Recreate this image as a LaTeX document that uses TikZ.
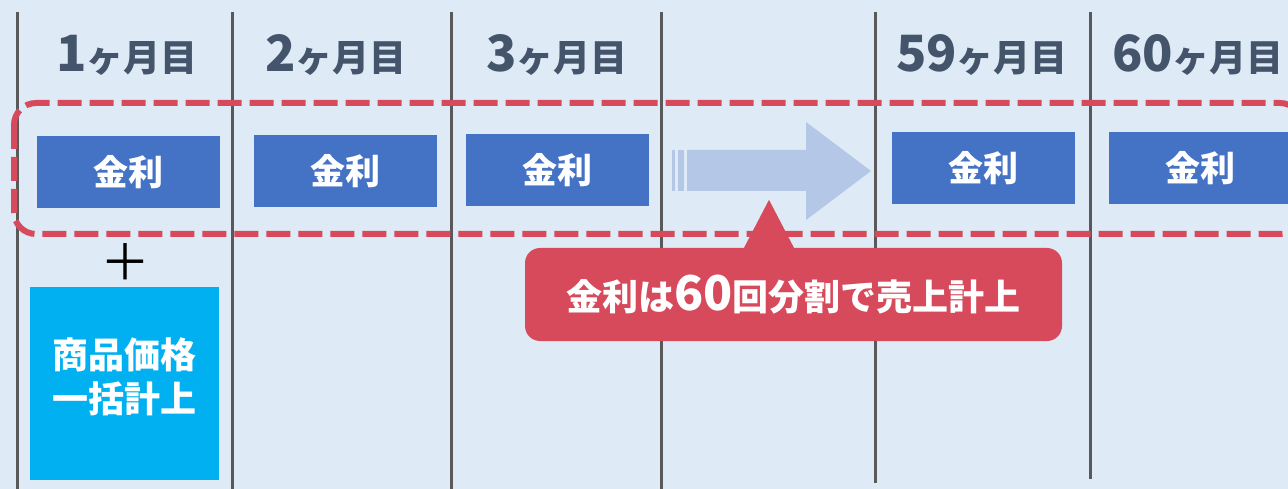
\documentclass[tikz,border=0pt]{standalone}
\usepackage{fontspec}
\setmainfont{Noto Sans CJK JP}
\usetikzlibrary{calc}
\usepackage{xcolor}

\definecolor{bgblue}{HTML}{DEEAF6}
\definecolor{linegray}{HTML}{595959}
\definecolor{hdrtext}{HTML}{44546A}
\definecolor{rateblue}{HTML}{4472C4}
\definecolor{noted}{HTML}{D64A5C}
\definecolor{arrowblue}{HTML}{B4C7E7}
\definecolor{lumpcyan}{HTML}{00B0F0}

\newcommand{\hdrnum}[1]{{\fontsize{50}{50}\selectfont #1}}
\newcommand{\notenum}[1]{{\fontsize{48}{48}\selectfont #1}}

\begin{document}
\begin{tikzpicture}[x=1pt, y=-1pt,
  monthline/.style={draw=linegray, line width=3pt},
  header/.style={text=hdrtext, anchor=base, inner sep=0pt, font=\bfseries\fontsize{37}{40}\selectfont},
  ratebox/.style={fill=rateblue, text=white, minimum width=183pt, minimum height=72pt, inner sep=0pt, font=\bfseries\fontsize{35}{40}\selectfont},
  dashframe/.style={draw=noted, line width=6pt, dash pattern=on 24pt off 8pt, rounded corners=22pt},
  notebox/.style={fill=noted, text=white, rounded corners=15pt, minimum width=537pt, minimum height=93pt, inner sep=0pt, font=\bfseries\fontsize{36}{40}\selectfont},
  lumpbox/.style={fill=lumpcyan, minimum width=189pt, minimum height=193pt, inner sep=0pt},
  lumptext/.style={text=white, inner sep=0pt, align=center, font=\bfseries\fontsize{36}{44}\selectfont}]
\useasboundingbox (0,0) rectangle (1288,489);
\fill[bgblue] (0,0) rectangle (1288,489);
\clip (0,0) rectangle (1288,489);

% month separators
\foreach \x/\yend in {17/495, 232/495, 451/495, 661/495, 875/483, 1090/479}
  \draw[monthline] (\x,12) -- (\x,\yend);

% month headers
\node[header] (hdr1) at (127,72) {\hdrnum{1}ヶ月目};
\node[header] (hdr2) at (336,72) {\hdrnum{2}ヶ月目};
\node[header] (hdr3) at (557,72) {\hdrnum{3}ヶ月目};
\node[header] (hdr59) at (982,72) {\hdrnum{59}ヶ月目};
\node[header] (hdr60) at (1198,72) {\hdrnum{60}ヶ月目};

% interest boxes
\node[ratebox] (rate1) at (128.5,172) {金利};
\node[ratebox] (rate2) at (345.5,171) {金利};
\node[ratebox] (rate3) at (557,170) {金利};
\node[ratebox] (rate59) at (983.5,168) {金利};
\node[ratebox] (rate60) at (1200.5,168) {金利};

% dashed frame
\draw[dashframe] (14,103) rectangle (1302,234);

% skip arrow
\fill[arrowblue] (687,150) -- (806,150) -- (806,122) -- (871,171) -- (806,220) -- (806,191) -- (687,191) -- cycle;
\fill[arrowblue] (672,150) rectangle (675,191);
\fill[arrowblue] (678,150) rectangle (684,191);

% callout
\node[notebox] (note) at (793.5,294.5) {金利は\notenum{60}回分割で売上計上};
\fill[noted] ($(note.north)+(-50.5,2)$) -- ($(note.north)+(-24.5,-48)$) -- ($(note.north)+(1.5,2)$) -- cycle;

% product price
\node[font=\fontsize{50}{50}\selectfont] (plus) at (125,262) {＋};
\node[lumpbox] (lump) at (124.5,383.5) {};
\node[lumptext] (lumplabel) at (124.5,377) {商品価格\\一括計上};
\end{tikzpicture}
\end{document}
